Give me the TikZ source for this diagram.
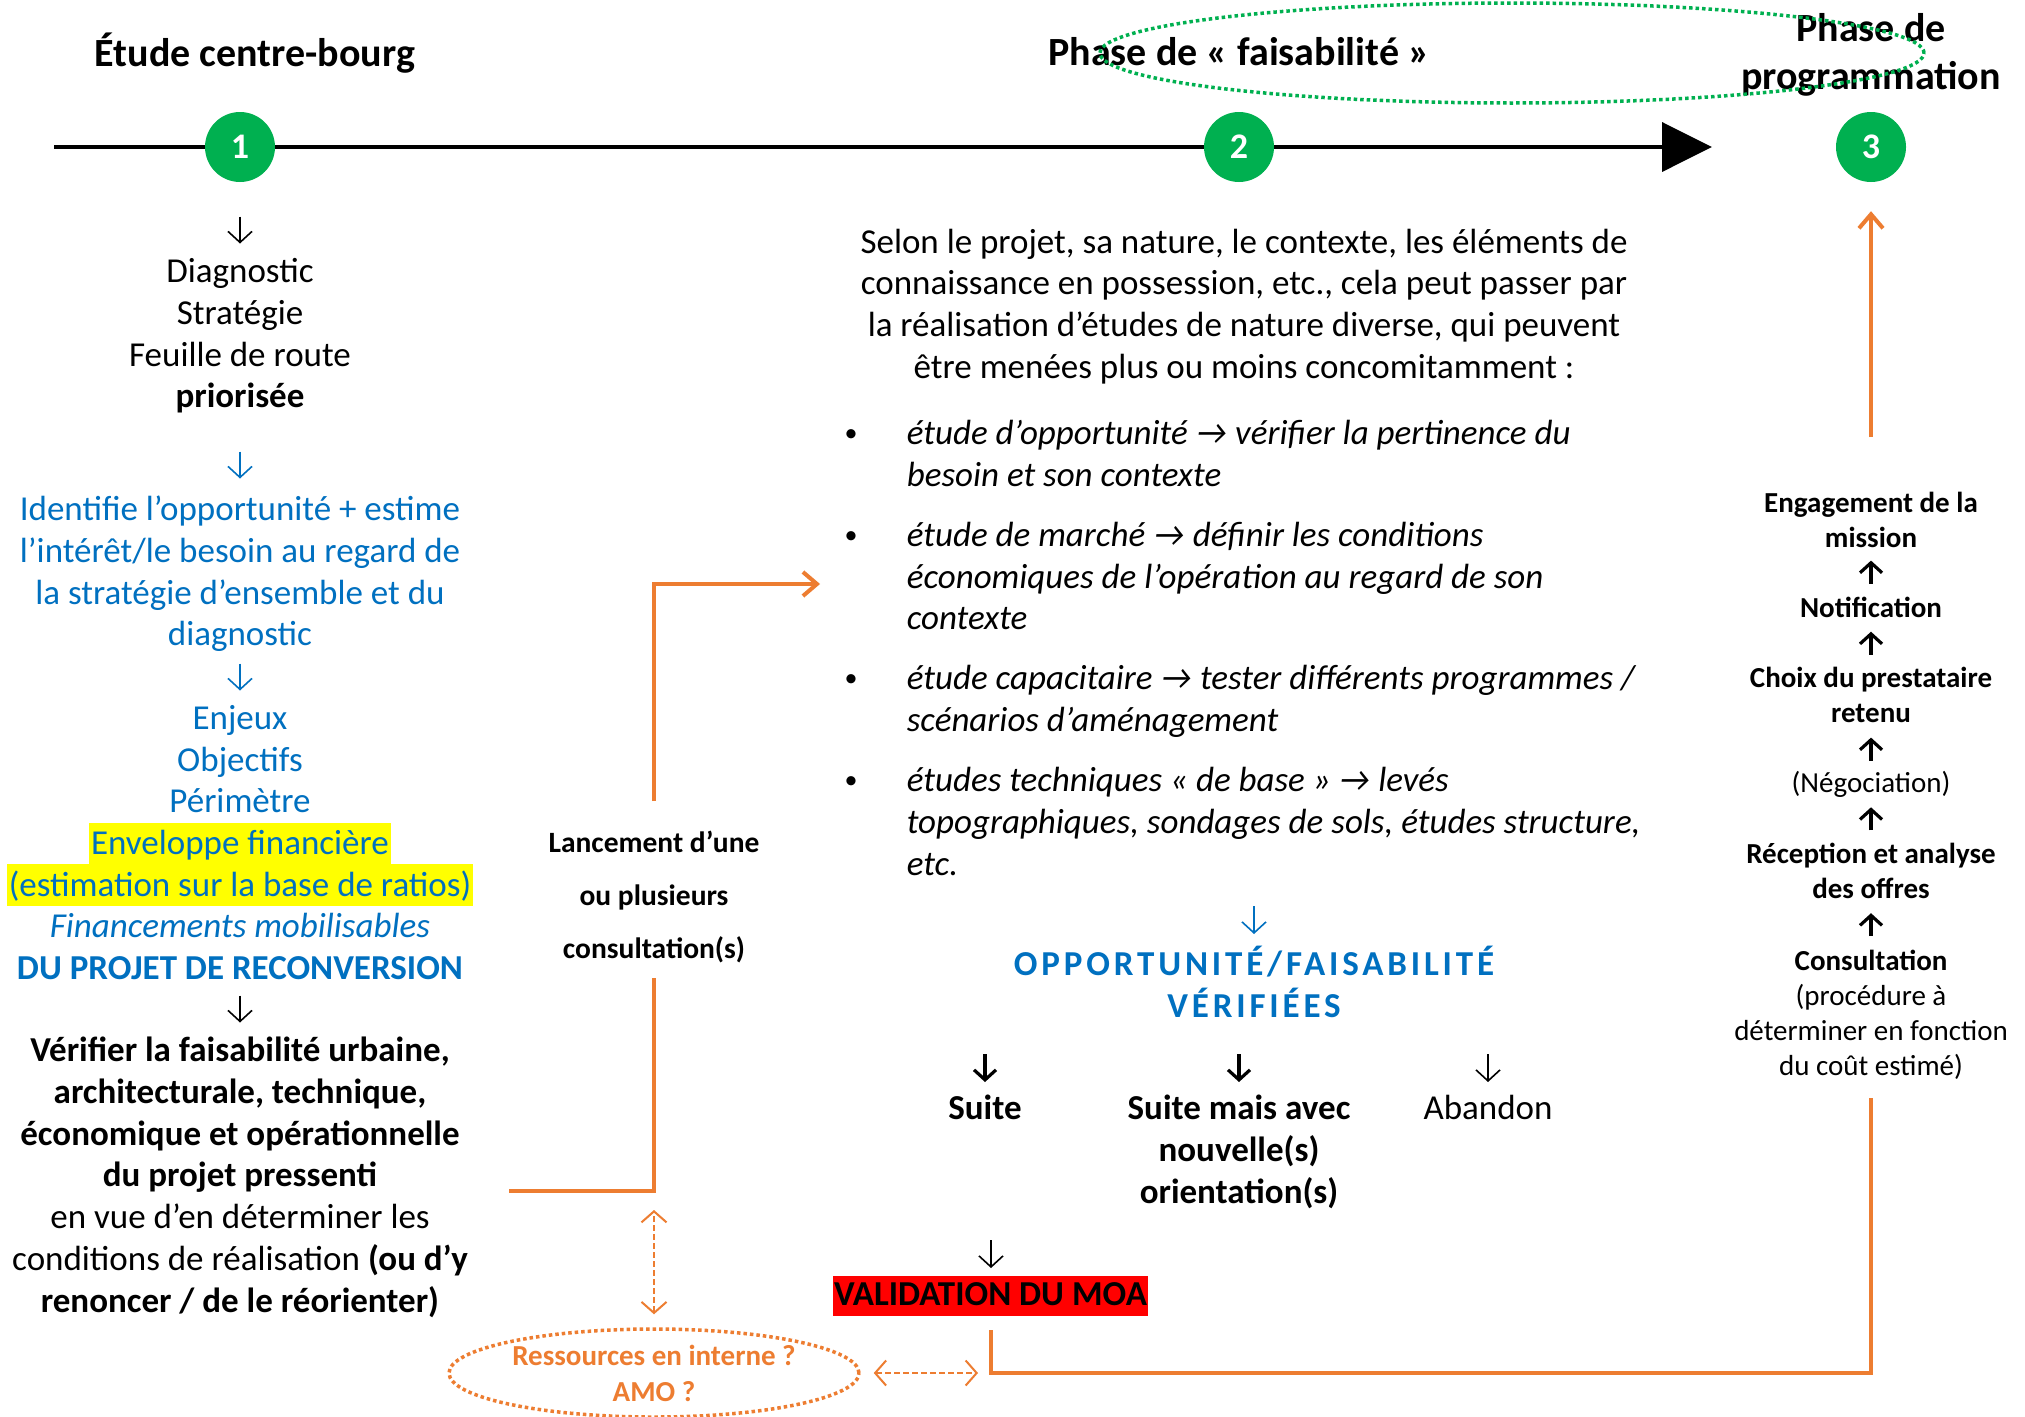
\documentclass[tikz,border=0pt]{standalone}
\usepackage{fontspec}
\setmainfont{Carlito}
\usetikzlibrary{arrows.meta,shapes.geometric}
\definecolor{ogreen}{HTML}{00B050}
\definecolor{oorange}{HTML}{ED7D31}
\definecolor{oblue}{HTML}{0070C0}
\definecolor{hyellow}{HTML}{FFFF00}
\definecolor{vred}{HTML}{FF0000}
\newcommand\fsz[2]{\fontsize{#1}{#2}\selectfont}
\newcommand\hl[1]{{\setlength{\fboxsep}{0pt}\colorbox{hyellow}{\rule[-10pt]{0pt}{41.7pt}\hspace{2pt}#1\hspace{2pt}}}}
\tikzset{
  blk/.style={inner sep=0pt, align=center, anchor=north, execute at begin node={\rule{0pt}{1em}}},
  blkl/.style={inner sep=0pt, align=left, anchor=north west, execute at begin node={\rule{0pt}{1em}}},
  big/.style={font=\fsz{35}{41.7}},
  small/.style={font=\fsz{29}{35}},
  ttl/.style={font=\fsz{40}{48}\bfseries},
  circ/.style={circle, fill=ogreen, minimum size=70pt, inner sep=0pt, text=white, font=\fsz{36}{40}\bfseries},
  glyph/.style={line width=1.6pt, -{Straight Barb[length=11pt,width=24pt]}},
  glyphb/.style={line width=3.2pt, -{Straight Barb[length=10pt,width=22pt]}},
  oline/.style={draw=oorange, line width=4pt},
  odash/.style={draw=oorange, line width=2pt, dash pattern=on 6pt off 3pt,
     {Straight Barb[length=11pt,width=25pt]}-{Straight Barb[length=11pt,width=25pt]}},
  dotline/.style={line width=3.5pt, dash pattern=on 3.5pt off 3pt},
}
\begin{document}
\begin{tikzpicture}[x=1pt,y=-1pt]
\fill[white] (0,0) rectangle (2025,1416);
\path[use as bounding box] (0,0) rectangle (2025,1416);

% timeline
\coordinate (tl0) at (54,147);
\coordinate (tl1) at (1712,147);
\draw[line width=3.8pt, -{Triangle[length=50pt,width=49pt]}] (tl0) -- (tl1);
\node[circ] (c1) at (240,147) {1};
\node[circ] (c2) at (1239,147) {2};
\node[circ] (c3) at (1871,147) {3};

% titles
\node[blk, ttl] (t1) at (255,26) {Étude centre-bourg};
\node[blk, ttl] (t2) at (1239,25) {Phase de « faisabilité »};
\node[blk, ttl] (t3) at (1871,13.5) {Phase de\\programmation};
\node[draw=ogreen, dotline, ellipse, minimum width=824pt, minimum height=100pt, inner sep=0pt] (oval) at (1512,53) {};

% left column
\draw[glyph] (240,216.5) -- (240,243.5);
\node[blk, big] (la) at (240,258.2) {Diagnostic\\Stratégie\\Feuille de route\\\textbf{priorisée}};
\draw[glyph, oblue] (240,451.5) -- (240,478.5);
\node[blk, big, text=oblue] (lb) at (240,495.9) {Identifie l’opportunité + estime\\l’intérêt/le besoin au regard de\\la stratégie d’ensemble et du\\diagnostic};
\draw[glyph, oblue] (240,663.5) -- (240,690.5);
\node[blk, big, text=oblue] (lc) at (240,705.1) {Enjeux\\Objectifs\\Périmètre\\\hl{Enveloppe financière}\\\hl{(estimation sur la base de ratios)}\\\textit{Financements mobilisables}\\\textbf{DU PROJET DE RECONVERSION}};
\draw[glyph] (240,995.5) -- (240,1022.5);
\node[blk, big] (ld) at (240,1037) {\textbf{Vérifier la faisabilité urbaine,}\\\textbf{architecturale, technique,}\\\textbf{économique et opérationnelle}\\\textbf{du projet pressenti}\\en vue d’en déterminer les\\conditions de réalisation \textbf{(ou d’y}\\\textbf{renoncer / de le réorienter)}};

% consultation launch
\node[blk, font=\fsz{29.5}{53}\bfseries] (lanc) at (654,831) {Lancement d’une\\ou plusieurs\\consultation(s)};
\coordinate (lk1) at (509,1191);
\coordinate (lk2) at (654,1191);
\coordinate (lq) at (654,978);
\coordinate (lp) at (654,801);
\coordinate (lt) at (820,584);
\draw[oline] (lk1) -- (lk2) -- (lq);
\draw[oline, -{Straight Barb[length=14pt,width=24pt]}] (lp) |- (lt);

\node[draw=oorange, dotline, ellipse, minimum width=410pt, minimum height=88pt, inner sep=0pt, align=center, text=oorange, font=\fsz{29}{36}\bfseries] (ell) at (654,1373) {Ressources en interne ?\\AMO ?};
\draw[odash, shorten <=13pt, shorten >=19pt] (ell) -- (lk2);

% middle paragraph
\node[blk, big] (mp) at (1244,228.6) {Selon le projet, sa nature, le contexte, les éléments de\\connaissance en possession, etc., cela peut passer par\\la réalisation d’études de nature diverse, qui peuvent\\être menées plus ou moins concomitamment :};

\node[blkl, font=\fsz{35}{41.7}\itshape] (b1) at (906.6,419.8) {étude d’opportunité → vérifier la pertinence du\\besoin et son contexte};
\node[blkl, font=\fsz{35}{41.7}\itshape] (b2) at (906.6,521.8) {étude de marché → définir les conditions\\économiques de l’opération au regard de son\\contexte};
\node[blkl, font=\fsz{35}{41.7}\itshape] (b3) at (906.6,665.1) {étude capacitaire → tester différents programmes /\\scénarios d’aménagement};
\node[blkl, font=\fsz{35}{41.7}\itshape] (b4) at (906.6,767.1) {études techniques « de base » → levés\\topographiques, sondages de sols, études structure,\\etc.};
\begin{scope}[every node/.style={anchor=base, inner sep=0pt, font=\fsz{26}{30}}]
\node (d1) at (851,441.5) {•};
\node (d2) at (851,543.5) {•};
\node (d3) at (851,686.8) {•};
\node (d4) at (851,788.8) {•};
\end{scope}

\draw[glyph, oblue] (1254,906) -- (1254,934);
\node[blk, text=oblue, font=\fsz{35}{42}\bfseries\addfontfeature{LetterSpace=11}] (ov) at (1254,945.8) {OPPORTUNITÉ/FAISABILITÉ\\VÉRIFIÉES};

\draw[glyphb] (985,1054) -- (985,1082);
\draw[glyphb] (1239,1054) -- (1239,1082);
\draw[glyph] (1488,1054) -- (1488,1082);
\node[blk, font=\fsz{35}{41.7}\bfseries] (s1) at (985,1084.5) {Suite};
\node[blk, font=\fsz{35}{41.7}\bfseries] (s2) at (1239,1095) {Suite mais avec\\nouvelle(s)\\orientation(s)};
\node[blk, big] (s3) at (1488,1084.5) {Abandon};

\draw[glyph] (991,1240) -- (991,1268);
\node[fill=vred, inner sep=0pt, minimum width=315pt, minimum height=40pt, text height=25pt, text depth=6pt, font=\fsz{35}{40}\bfseries] (valid) at (990.5,1296) {VALIDATION DU MOA};

\coordinate (k2) at (991,1373);
\coordinate (r1) at (1871,1098);
\coordinate (r2) at (1871,437);
\draw[oline, shorten <=14pt] (valid) |- (1871,1373) -- (r1);
\draw[odash, shorten <=13pt, shorten >=13pt] (ell.east) -- (k2);
\draw[oline, -{Straight Barb[length=14pt,width=24pt]}, shorten >=29pt] (r2) -- (c3);

% right column
\node[blk, font=\fsz{29}{35}\bfseries] (e1) at (1871,492.4) {Engagement de la\\mission};
\draw[glyphb] (1871,583.6) -- (1871,560.6);
\node[blk, font=\fsz{29}{35}\bfseries] (e2) at (1871,588) {Notification};
\draw[glyphb] (1871,654.7) -- (1871,631.7);
\node[blk, font=\fsz{29}{35}\bfseries] (e3) at (1871,666.7) {Choix du prestataire\\retenu};
\draw[glyphb] (1871,760.6) -- (1871,737.6);
\node[blk, small] (e4) at (1871,763.7) {(Négociation)};
\draw[glyphb] (1871,830.3) -- (1871,807.3);
\node[blk, font=\fsz{29}{35}\bfseries] (e5) at (1871,842.4) {Réception et analyse\\des offres};
\draw[glyphb] (1871,936.2) -- (1871,913.2);
\node[blk, small] (e6) at (1871,949.6) {\textbf{Consultation}\\(procédure à\\déterminer en fonction\\du coût estimé)};
\end{tikzpicture}
\end{document}
